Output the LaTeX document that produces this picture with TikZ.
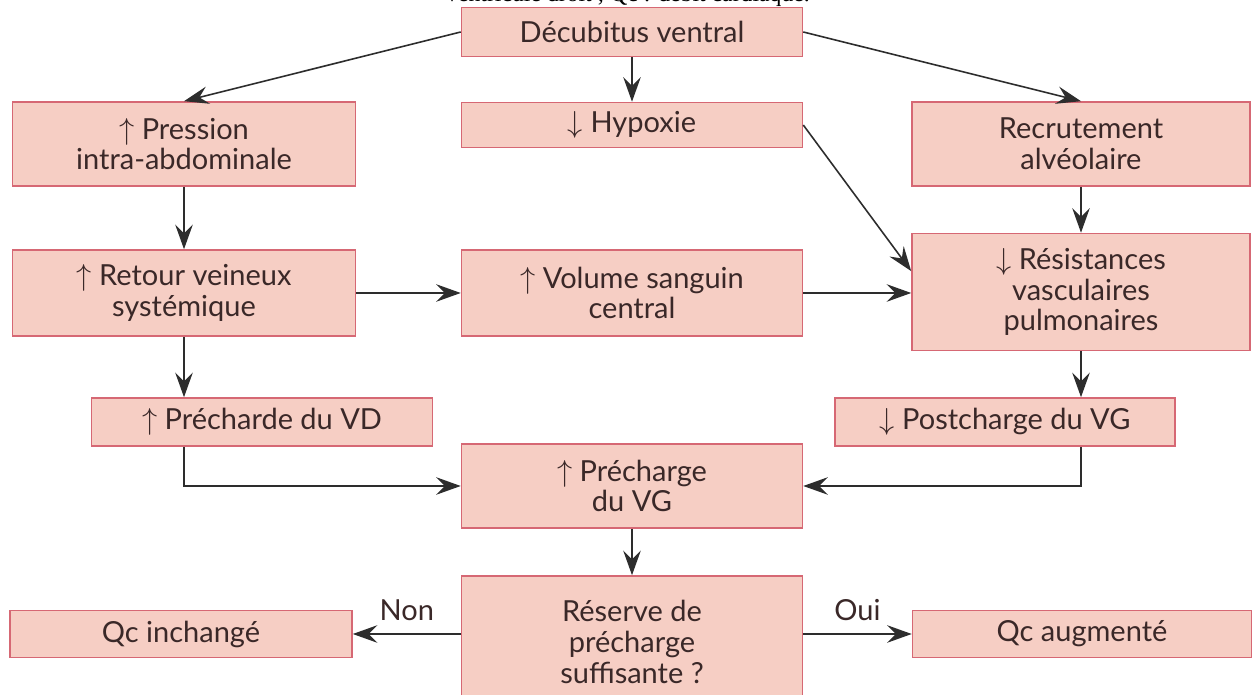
\documentclass[tikz,border=0pt]{standalone}
\usepackage{fontspec}
\setmainfont{Lato}
\newfontfamily\capfont{Liberation Serif}
\usetikzlibrary{arrows.meta,positioning}
\definecolor{boxfill}{RGB}{246,206,196}
\definecolor{boxline}{RGB}{214,104,116}
\definecolor{txt}{RGB}{58,40,40}
\definecolor{wire}{RGB}{45,45,45}
\tikzset{
  box/.style 2 args={draw=boxline, fill=boxfill, line width=0.9pt, align=center,
    inner sep=0pt, minimum width=#1*0.02cm, minimum height=#2*0.02cm,
    text=txt, font=\fontsize{16.5}{17.5}\selectfont},
  flow/.style={wire, line width=0.9pt, -{Stealth[length=14pt,width=10pt,inset=5pt]}},
  yesno/.style={text=txt, font=\fontsize{16.5}{17.5}\selectfont}
}
\begin{document}
\begin{tikzpicture}[x=0.02cm, y=-0.02cm]
    \useasboundingbox (0,0) rectangle (1252,695);
    \clip (0,0) rectangle (1252,695);
    \fill[white] (0,0) rectangle (1252,695);
    % cut-off caption line
    \node[anchor=base, font=\capfont\fontsize{13.5}{15}\selectfont] (cap) at (628,1.5)
        {ventricule droit ; Qc : débit cardiaque.};
    % boxes
    \node[box={341}{49}] (deb) at (632,32) {Décubitus ventral};
    \node[box={343}{84}] (press) at (184,144) {$\uparrow$ Pression\\intra-abdominale};
    \node[box={341}{45}] (hyp) at (632,125) {$\downarrow$ Hypoxie};
    \node[box={338}{84}] (recr) at (1081,144) {Recrutement\\alvéolaire};
    \node[box={343}{86}] (ret) at (184,293) {$\uparrow$ Retour veineux\\systémique};
    \node[box={341}{86}] (vol) at (632,293) {$\uparrow$ Volume sanguin\\central};
    \node[box={338}{117}] (res) at (1081,292) {$\downarrow$ Résistances\\vasculaires\\pulmonaires};
    \node[box={341}{48}] (pvd) at (262,422) {$\uparrow$ Précharde du VD};
    \node[box={340}{48}] (post) at (1005,422) {$\downarrow$ Postcharge du VG};
    \node[box={341}{84}] (pvg) at (632,486) {$\uparrow$ Précharge\\du VG};
    \node[box={341}{132}] (rsv) at (632,642) {Réserve de\\précharge\\suffisante ?};
    \node[box={342}{47}] (qci) at (181,634) {Qc inchangé};
    \node[box={339}{47}] (qca) at (1082,634) {Qc augmenté};
    % connectors
    \draw[flow] (deb.west) -- (press.north);
    \draw[flow] (deb.south) -- (hyp.north);
    \draw[flow] (deb.east) -- (recr.north);
    \draw[flow] (press.south) -- (ret.north);
    \draw[flow] (hyp.east) -- (res.173);
    \draw[flow] (recr.south) -- (res.north);
    \draw[flow] (ret.east) -- (vol.west);
    \draw[flow] (vol.east) -- (vol.east -| res.west);
    \draw[flow] (ret.south) -- (ret.south |- pvd.north);
    \draw[flow] (res.south) -- (res.south |- post.north);
    \draw[flow] (pvd.south -| ret.south) |- (pvg.west);
    \draw[flow] (post.south -| res.south) |- (pvg.east);
    \draw[flow] (pvg.south) -- (rsv.north);
    \draw[flow] (rsv.west |- qci.east) -- node[yesno, above=4pt] {Non} (qci.east);
    \draw[flow] (rsv.east |- qca.west) -- node[yesno, above=4pt] {Oui} (qca.west);
\end{tikzpicture}
\end{document}
